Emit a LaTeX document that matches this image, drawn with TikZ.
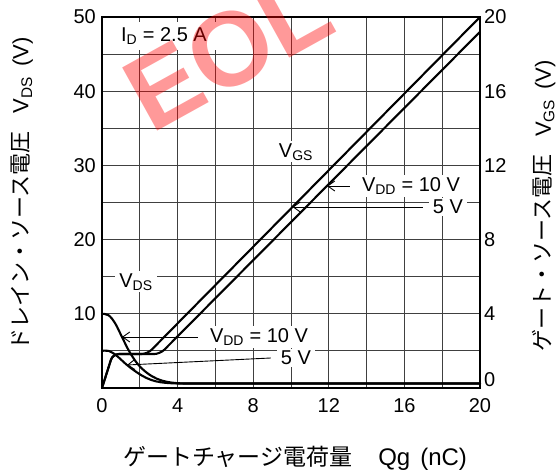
\documentclass[tikz,border=0pt]{standalone}
\usepackage{fontspec}
\setmainfont{Liberation Sans}
\newfontfamily\jp{Noto Sans CJK JP}
\usetikzlibrary{arrows.meta}
\begin{document}
\begin{tikzpicture}[x=1pt,y=1pt,
  gridln/.style={line width=0.8pt, black!75},
  frameln/.style={line width=2.4pt},
  curve/.style={line width=2.1pt, line join=round, line cap=round},
  lab/.style={font=\fontsize{20}{24}\selectfont, fill=white, inner xsep=4pt, inner ysep=2pt},
  ticklab/.style={font=\fontsize{20}{24}\selectfont, inner sep=0pt},
  title/.style={font=\fontsize{23}{26}\selectfont, inner sep=0pt},
  sidetitle/.style={font=\fontsize{22}{24}\selectfont, inner sep=0pt, rotate=90},
  ptr/.style={line width=0.9pt, -{Straight Barb[length=7pt,width=10pt]}},
]
\useasboundingbox (0,0) rectangle (558,473);
% grid
\begin{scope}[shift={(102pt,85pt)}, x=18.9pt, y=7.42pt]
  \foreach \q in {2,4,...,18} \draw[gridln] (\q,0) -- (\q,50);
  \foreach \v in {5,10,...,45} \draw[gridln] (0,\v) -- (20,\v);
\end{scope}
% tick labels
\foreach \v [count=\i] in {10,20,30,40,50}
  \node[ticklab, anchor=east] (yl\i) at (96, 85+74.2*\i) {\v};
\foreach \g [count=\i] in {4,8,12,16,20}
  \node[ticklab, anchor=west] (yr\i) at (484, 85+74.2*\i) {\g};
\node[ticklab, anchor=west] (yr0) at (484, 93) {0};
\foreach \q [count=\i] in {0,4,8,12,16,20}
  \node[ticklab] (xl\i) at (102+75.6*\i-75.6, 67) {\q};
% axis titles
\node[title] (xt) at (295,15) {{\jp ゲートチャージ電荷量}\hspace{26pt}{\fontsize{24}{26}\selectfont Qg\hspace{10pt}(nC)}};
\node[sidetitle] (ylt) at (22,279) {{\jp ドレイン・ソース電圧}\hspace{18pt}V\textsubscript{DS}\hspace{10pt}(V)};
\node[sidetitle] (yrt) at (544,267) {{\jp ゲート・ソース電圧}\hspace{18pt}V\textsubscript{GS}\hspace{10pt}(V)};
% labels (white boxes mask the grid)
\node[lab, inner xsep=12pt, inner ysep=5pt] (nid) at (164,437) {I\textsubscript{D} = 2.5 A};
\node[lab] (nvgs) at (296,321) {V\textsubscript{GS}};
\node[lab] (nvds) at (136,191) {V\textsubscript{DS}};
\node[lab] (nvdd10u) at (411,287) {V\textsubscript{DD} = 10 V};
\node[lab] (n5u) at (448,266) {5 V};
\node[lab] (nvdd10l) at (259,136) {V\textsubscript{DD} = 10 V};
\node[lab] (n5l) at (296,115) {5 V};
% curves
\begin{scope}[shift={(102pt,85pt)}, x=18.9pt]
  \begin{scope}[y=18.55pt]
    \draw[curve, rounded corners=6pt] (0,0) -- (0.57,1.83) -- (2.4,1.83) -- (20,20);
    \draw[curve, rounded corners=6pt] (0,0) -- (0.57,1.83) -- (3.07,1.83) -- (20,19.2);
  \end{scope}
  \begin{scope}[y=7.42pt]
    \draw[curve] plot[smooth, tension=0.6] coordinates {(0,10) (0.35,9.8) (0.7,8.7) (1.058,6.87) (1.45,4.9) (1.9,3.2) (2.4,2.0) (2.9,1.25) (3.4,0.85) (3.9,0.67) (4.4,0.6)} -- (20,0.6);
    \draw[curve] plot[smooth, tension=0.6] coordinates {(0,5) (0.35,5.0) (0.75,4.4) (1.323,3.1) (1.85,2.1) (2.35,1.35) (2.85,0.9) (3.35,0.7) (3.85,0.62) (4.3,0.6)} -- (20,0.6);
  \end{scope}
\end{scope}
% arrow tips on the curves
\coordinate (t10u) at (327,287);
\coordinate (t5u) at (292.5,266);
\coordinate (t10l) at (122,136);
\coordinate (t5l) at (127,108);
\draw[ptr] ([xshift=-8pt]nvdd10u.west) -- (t10u);
\draw[ptr] ([xshift=-6pt]n5u.west) -- (t5u);
\draw[ptr] ([xshift=-8pt]nvdd10l.west) -- (t10l);
\draw[ptr] ([xshift=-6pt]n5l.west) -- (t5l);
% frame
\draw[frameln] (102,85) rectangle (480,456);
% watermark
\node[text=red, opacity=0.4, rotate=29, inner sep=0pt,
  font=\fontsize{105}{105}\selectfont\bfseries] (wm) at (228,422) {EOL};
\end{tikzpicture}
\end{document}
